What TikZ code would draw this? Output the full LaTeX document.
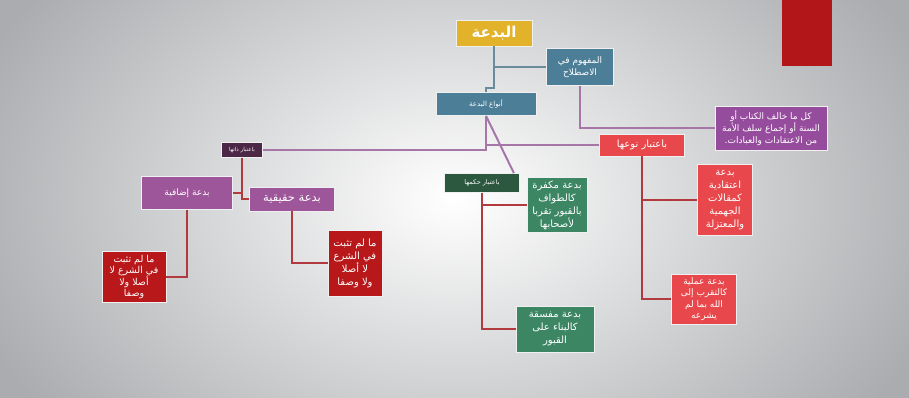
\documentclass[tikz,border=0pt]{standalone}
\usepackage{fontspec}
\newfontfamily\arabicfont[Script=Arabic]{DejaVu Sans}
\TeXXeTstate=1
\newcommand{\arl}[1]{\beginR #1\endR}

\definecolor{bggray}{RGB}{170,172,175}
\definecolor{gold}{RGB}{226,178,42}
\definecolor{tealbox}{RGB}{76,127,151}
\definecolor{violet}{RGB}{150,76,156}
\definecolor{violetb}{RGB}{158,86,154}
\definecolor{redbox}{RGB}{232,72,76}
\definecolor{darkred}{RGB}{184,24,26}
\definecolor{plum}{RGB}{76,40,70}
\definecolor{pine}{RGB}{44,88,64}
\definecolor{greenbox}{RGB}{60,134,100}
\definecolor{cornerred}{RGB}{178,22,24}
\definecolor{tealline}{RGB}{104,140,156}
\definecolor{violetline}{RGB}{166,118,168}
\definecolor{redline}{RGB}{178,58,62}

\begin{document}
\begin{tikzpicture}[x=1pt, y=-1pt,
    box/.style={draw=white!88!gray, line width=0.8pt, text=white, align=center, inner sep=1pt},
    tl/.style={tealline, line width=2pt},
    vl/.style={violetline, line width=2pt},
    rl/.style={redline, line width=2pt}]
    \useasboundingbox (0,0) rectangle (909,397);
    \begin{scope}
      \clip (0,0) rectangle (909,397);
      \shade[inner color=white, outer color=bggray] (-60,-150) rectangle (969,547);
    \end{scope}
    \fill[cornerred] (782,0) rectangle (832,66);

    \node[box, fill=gold, minimum width=76, minimum height=26, font=\arabicfont\bfseries\fontsize{15}{18}\selectfont] (root) at (494,33) {\arl{البدعة}};
    \node[box, fill=tealbox, minimum width=67, minimum height=37, font=\arabicfont\fontsize{9}{12}\selectfont] (mafhum) at (580,67) {\arl{المفهوم في}\\\arl{الاصطلاح}};
    \node[box, fill=tealbox, minimum width=100, minimum height=23, font=\arabicfont\fontsize{7}{8}\selectfont] (anwa) at (486,104) {\arl{أنواع البدعة}};
    \node[box, fill=violet, minimum width=112, minimum height=44, font=\arabicfont\fontsize{9}{12}\selectfont] (kull) at (771,128) {\arl{كل ما خالف الكتاب أو}\\\arl{السنة أو إجماع سلف الأمة}\\\arl{من الاعتقادات والعبادات.}};

    \node[box, fill=redbox, minimum width=85, minimum height=22, font=\arabicfont\fontsize{10}{12}\selectfont] (naw) at (642,145) {\arl{باعتبار نوعها}};
    \node[box, fill=plum, minimum width=41, minimum height=15, font=\arabicfont\fontsize{5.5}{6}\selectfont] (that) at (242,150) {\arl{باعتبار ذاتها}};
    \node[box, fill=pine, minimum width=75, minimum height=19, font=\arabicfont\fontsize{6.5}{7}\selectfont] (hukm) at (482,183) {\arl{باعتبار حكمها}};

    \node[box, fill=greenbox, minimum width=60, minimum height=55, font=\arabicfont\fontsize{10}{13}\selectfont] (mukaf) at (557,205) {\arl{بدعة مكفرة}\\\arl{كالطواف}\\\arl{بالقبور تقربا}\\\arl{لأصحابها}};
    \node[box, fill=greenbox, minimum width=78, minimum height=46, font=\arabicfont\fontsize{10}{13}\selectfont] (mufas) at (555,329) {\arl{بدعة مفسقة}\\\arl{كالبناء على}\\\arl{القبور}};
    \node[box, fill=redbox, minimum width=55, minimum height=71, font=\arabicfont\fontsize{10}{13}\selectfont] (itiq) at (725,200) {\arl{بدعة}\\\arl{اعتقادية}\\\arl{كمقالات}\\\arl{الجهمية}\\\arl{والمعتزلة}};
    \node[box, fill=redbox, minimum width=65, minimum height=50, font=\arabicfont\fontsize{9}{11.5}\selectfont] (amal) at (704,299) {\arl{بدعة عملية}\\\arl{كالتقرب إلى}\\\arl{الله بما لم}\\\arl{يشرعه}};

    \node[box, fill=violetb, minimum width=91, minimum height=33, font=\arabicfont\fontsize{9}{10}\selectfont] (idaf) at (187,193) {\arl{بدعة إضافية}};
    \node[box, fill=violetb, minimum width=85, minimum height=24, font=\arabicfont\fontsize{11.5}{13}\selectfont] (haq) at (292,199) {\arl{بدعة حقيقية}};
    \node[box, fill=darkred, minimum width=64, minimum height=51, font=\arabicfont\fontsize{9.5}{11}\selectfont] (lam1) at (134,277) {\arl{ما لم تثبت}\\\arl{في الشرع لا}\\\arl{أصلا ولا}\\\arl{وصفا}};
    \node[box, fill=darkred, minimum width=54, minimum height=66, font=\arabicfont\fontsize{10}{13}\selectfont] (lam2) at (355,263) {\arl{ما لم تثبت}\\\arl{في الشرع}\\\arl{لا أصلا}\\\arl{ولا وصفا}};

    % connectors
    \draw[tl] (root.south) -- ++(0,42) -| (anwa.north);
    \draw[tl] (root.south |- mafhum.west) -- (mafhum.west);
    \draw[vl] (mafhum.south) |- (kull.west);
    \draw[vl] (anwa.south) |- (that.east);
    \draw[vl] (anwa.south) |- (naw.west);
    \draw[vl] (anwa.south) -- ([xshift=-6pt]hukm.north east);
    \draw[rl] (that.south) |- (haq.west);
    \draw[rl] (idaf.east) -- (idaf.east -| that.south);
    \draw[rl] (idaf.south) |- (lam1.east);
    \draw[rl] (haq.south) |- (lam2.west);
    \draw[rl] (hukm.south) |- (mufas.west);
    \draw[rl] (hukm.south |- mukaf.west) -- (mukaf.west);
    \draw[rl] (naw.south) |- (amal.west);
    \draw[rl] (naw.south |- itiq.west) -- (itiq.west);
\end{tikzpicture}
\end{document}
